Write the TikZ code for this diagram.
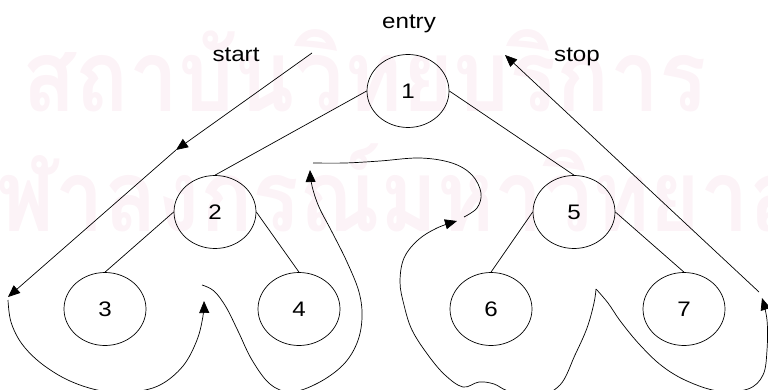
\documentclass[tikz,border=0pt]{standalone}
\usepackage{graphicx}
\usepackage{fontspec}
\setmainfont{Liberation Sans}
\newfontfamily\thaiwm[Script=Thai]{Loma}
\usetikzlibrary{arrows.meta,shapes.geometric}
\definecolor{wmpink}{RGB}{252,243,247}
\newcommand{\widetxt}[1]{\scalebox{1.15}[1]{#1}}
\tikzset{
  vertex/.style={draw, ellipse, minimum width=82pt, minimum height=73pt,
    inner sep=0pt, line width=0.7pt, font=\fontsize{21}{24}\selectfont},
  edge/.style={line width=0.7pt},
  tour/.style={line width=0.7pt},
  tip/.style={-{Triangle[length=12pt,width=10pt]}},
  caption/.style={font=\fontsize{21}{24}\selectfont, inner sep=0pt, anchor=base},
  watermark/.style={text=wmpink, font=\thaiwm\bfseries\fontsize{100}{100}\selectfont,
    inner sep=0pt, anchor=base west},
}
\begin{document}
\begin{tikzpicture}[x=1pt,y=-1pt]
\path[use as bounding box, clip] (0,0) rectangle (768,390);

% faint background stamp
\node[watermark] (wm1) at (22,112) {\scalebox{0.88}[1]{สถาบันวิทยบริการ}};
\node[watermark] (wm2) at (-55,231) {\scalebox{0.87}[1]{จุฬาลงกรณ์มหาวิทยาลัย}};

% labels
\node[caption] (entry) at (409,29) {\widetxt{entry}};
\node[caption] (start) at (236,62) {\widetxt{start}};
\node[caption] (stop)  at (577,62) {\widetxt{stop}};

% tree
\node[vertex] (n1) at (408,91)  {\widetxt{1}};
\node[vertex] (n2) at (215,212) {\widetxt{2}};
\node[vertex] (n3) at (105,309) {\widetxt{3}};
\node[vertex] (n4) at (299,309) {\widetxt{4}};
\node[vertex] (n5) at (574,212) {\widetxt{5}};
\node[vertex] (n6) at (491,309) {\widetxt{6}};
\node[vertex] (n7) at (684,309) {\widetxt{7}};

\draw[edge] (n1.west) -- (n2.north);
\draw[edge] (n1.east) -- (n5.north);
\draw[edge] (n2.west) -- (n3.north);
\draw[edge] (n2.east) -- (n4.north);
\draw[edge] (n5.west) -- (n6.north);
\draw[edge] (n5.east) -- (n7.north);

% entry and exit of the walk
\coordinate (startA) at (312,53);
\coordinate (startB) at (176,150);
\coordinate (startC) at (8,297);
\coordinate (stopA)  at (759,292);
\coordinate (stopB)  at (505,55);
\draw[tour,tip] (startA) -- (startB);
\draw[tour,tip] (startB) -- (startC);
\draw[tour,tip] (stopA) -- (stopB);

% walk around the left subtree
\draw[tour,tip] plot[smooth, tension=0.6] coordinates {
  (8,300) (11,322) (22,344) (42,364) (70,381) (102,391) (132,392)
  (160,385) (183,366) (197,340) (203,316) (204,301)};
\draw[tour,tip] plot[smooth, tension=0.6] coordinates {
  (202,285) (214,291) (226,307) (238,331) (252,360) (270,384) (291,392)
  (318,383) (343,365) (357,343) (362,318) (359,292) (347,262) (332,232)
  (319,207) (312,186) (310,170)};

% crossing over the root
\draw[tour] plot[smooth, tension=0.6] coordinates {
  (313,163) (345,163) (380,161) (420,158) (452,163) (472,175) (481,193)
  (477,208) (464,217)};

% walk around the right subtree
\draw[tour,tip] plot[smooth, tension=0.6] coordinates {
  (596,289) (594,303) (587,328) (575,355) (560,385) (535,397) (508,391)
  (494,384) (479,382) (463,387) (445,375) (428,355) (412,330) (404,305)
  (400,282) (404,258) (418,240) (437,228) (457,221)};
\draw[tour,tip] plot[smooth, tension=0.6] coordinates {
  (596,289) (608,303) (621,322) (640,345) (662,366) (687,381) (718,391)
  (748,389) (763,375) (767,350) (767,320) (762,298)};
\end{tikzpicture}
\end{document}
